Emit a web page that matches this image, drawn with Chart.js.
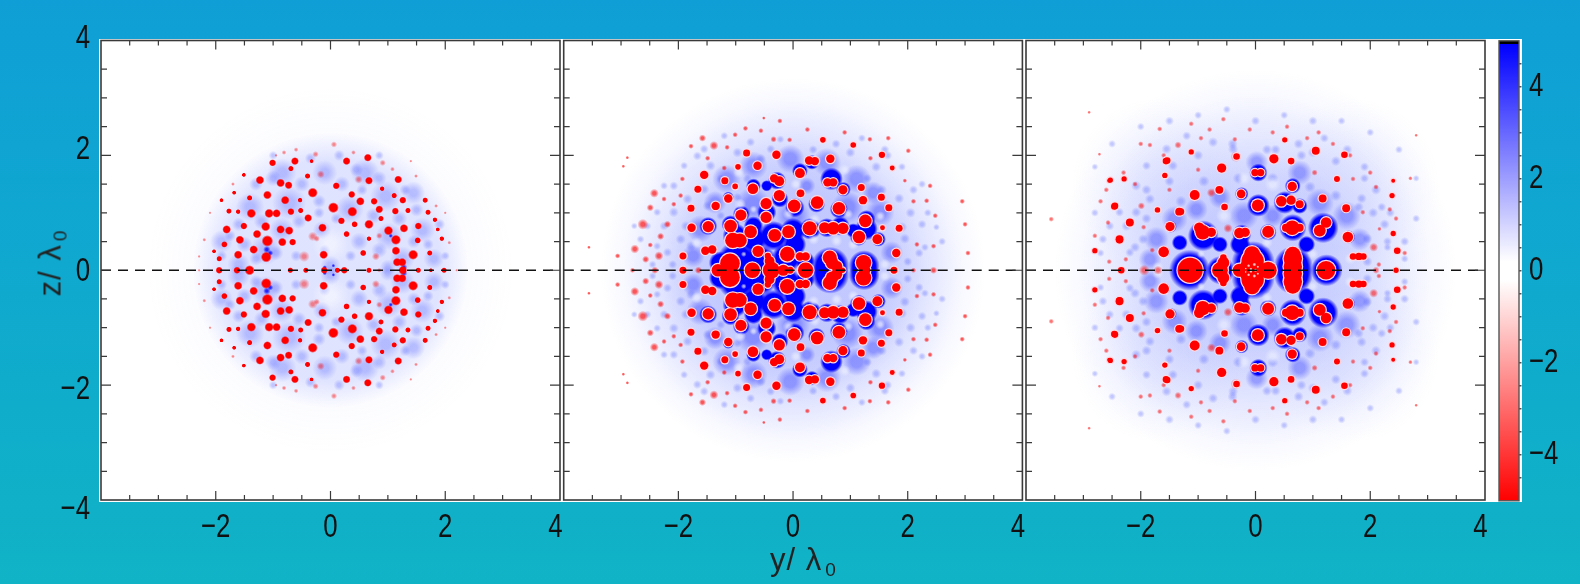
<!DOCTYPE html>
<html>
<head>
<meta charset="utf-8">
<title>z / lambda maps</title>
<script src="https://cdn.jsdelivr.net/npm/chart.js@4/dist/chart.umd.min.js"></script>
<style>
  html, body { margin: 0; padding: 0; }
  body { width: 1580px; height: 584px; overflow: hidden; position: relative;
         background: linear-gradient(#0f9fd6, #10b3c6); font-family: "Liberation Sans", sans-serif; }
  #sheet { position: absolute; left: 99px; top: 38.5px; width: 1423px; height: 463.5px; background: #fff; }
  canvas { position: absolute; left: 0; top: 0; }
  .title { position: absolute; color: #222; font-size: 31px; white-space: nowrap; line-height: 1; letter-spacing: 1px; }
  .title sub { font-size: 19px; vertical-align: -6px; margin-left: 3px; }
  #xTitle { left: 770px; top: 544px; }
  #yTitle { left: 52px; top: 263px; transform: translate(-50%, -50%) rotate(-90deg); }
</style>
</head>
<body>
<div id="sheet"></div>
<canvas id="panel1" width="1580" height="584"></canvas>
<canvas id="panel2" width="1580" height="584"></canvas>
<canvas id="panel3" width="1580" height="584"></canvas>
<canvas id="colorbar" width="1580" height="584"></canvas>
<div class="title" id="xTitle">y/ λ<sub>0</sub></div>
<div class="title" id="yTitle">z/ λ<sub>0</sub></div>
<script>
// All lists are [y, z, extent] in units of lambda0, upper half only (the maps mirror about z = 0)

// tick values
const axisMajor = [-2, 0, 2];
const axisMinor = [-3.5, -3, -2.5, -1.5, -1, -0.5, 0.5, 1, 1.5, 2.5, 3, 3.5];
const xLabelTicks = [-2, 0, 2, 3.92];
const zLabelTicks = [4.03, 2.1, -0.02, -2.07, -4.16];
const barLabelTicks = [-4, -2, 0, 2, 4];
const barMarks = [-4.5, -4, -3.5, -3, -2.5, -2, -1.5, -1, -0.5, 0, 0.5, 1, 1.5, 2, 2.5, 3, 3.5, 4, 4.5];
const barStops = [[-5, '#ff0000'], [-0.2, '#ffffff'], [0.2, '#ffffff'], [4.92, '#0000ff'], [4.93, '#000000'], [5, '#000000']];

// panel 1
const p1Outer = [[0, 0, 3.2]];
const p1Haze = [[0, 0, 2.4]];
const p1Gap = [[0, 0.45, 0.32]];
const p1Mid = [[-1.13, 0.36, 0.27], [-0.72, 1.17, 0.3], [1.02, 0.59, 0.24], [1.25, 0.2, 0.22], [0, 0.08, 0.18], [-0.84, 1.7, 0.25],
  [0.6, 1.7, 0.25], [-1.9, 0.5, 0.2], [0.33, 1.06, 0.25], [1.6, 0.7, 0.22], [0.96, 1.29, 0.27], [-1.4, 1.1, 0.25], [-0.85, 0.7, 0.22],
  [-1.6, 0.1, 0.2], [1.8, 0.2, 0.18], [-0.1, 1.7, 0.22], [0.5, 0.5, 0.16], [-0.15, 0.7, 0.16], [1.45, 1.35, 0.2],
  [-1.6, 0.8, 0.12], [-1.3, 1.5, 0.12], [-1.0, 1.6, 0.14], [-0.5, 1.5, 0.14], [-0.2, 1.2, 0.12], [0.2, 1.5, 0.14], [0.45, 1.75, 0.12], [0.85, 1.6, 0.13],
  [1.3, 1.4, 0.1], [1.5, 1.05, 0.12], [1.2, 0.9, 0.14], [0.75, 0.95, 0.14], [0.55, 1.4, 0.1], [0.1, 0.9, 0.1], [-0.55, 0.85, 0.13], [-1.2, 0.85, 0.14],
  [-1.5, 0.45, 0.14], [-1.9, 0.25, 0.1], [-1.75, 0.6, 0.1], [-1.3, 0.2, 0.12], [-0.95, 0.3, 0.13], [-0.6, 0.25, 0.1], [0.35, 0.25, 0.1], [0.85, 0.35, 0.14],
  [1.0, 0.05, 0.14], [1.45, 0.5, 0.12], [1.7, 0.45, 0.1], [2.0, 0.25, 0.08], [1.9, 0.8, 0.1], [-1.0, 2.0, 0.08], [-0.35, 1.95, 0.1], [0.15, 2.0, 0.1],
  [0.85, 2.0, 0.08], [-0.1, 0.35, 0.1], [-0.2, 1.0, 0.1]];
const p1Core = [[-1.11, 0.36, 0.05], [-1.05, 0.3, 0.04], [1.28, 0.05, 0.045], [1.05, 0.6, 0.03], [-0.1, 0.05, 0.03], [0.05, 0.08, 0.025]];
const p1Pale = [[-0.46, 0.24, 0.07], [-0.31, 0.59, 0.06], [-0.17, 1.67, 0.05], [0.49, 1.58, 0.05], [0.79, 0.24, 0.05], [0.06, 2.19, 0.04],
  [-0.26, 2.02, 0.04], [-0.6, 2.1, 0.03], [-0.81, 2.05, 0.03], [0.91, 1.87, 0.04], [1.08, 1.76, 0.03], [1.49, 1.64, 0.025], [1.84, 1.12, 0.025],
  [2.07, 0.48, 0.025], [-2.2, 0.53, 0.025], [-2.29, 0.24, 0.02], [-2.29, 0, 0.02], [2.2, 0, 0.02], [-0.24, 0.55, 0.04], [0.85, 0.6, 0.04],
  [-1.7, 1.5, 0.025], [-0.95, 2.0, 0.02], [0.4, 2.05, 0.03], [1.4, 1.9, 0.02], [2.0, 1.0, 0.02], [-2.1, 1.0, 0.02], [-0.7, 0, 0.04], [0.85, 0, 0.03]];
const p1Red = [[0.65, 1.96, 0.055], [-0.62, 1.9, 0.055], [0.28, 1.9, 0.055], [-1.01, 1.87, 0.05], [-0.33, 1.9, 0.03], [-0.69, 1.77, 0.04],
  [-1.23, 1.57, 0.06], [-0.87, 1.52, 0.06], [-0.73, 1.48, 0.055], [0.67, 1.56, 0.055], [1.18, 1.58, 0.055], [-0.4, 1.64, 0.04], [-1.51, 1.66, 0.03],
  [0.1, 1.47, 0.05], [-1.68, 1.35, 0.03], [-1.41, 1.26, 0.04], [-1.1, 1.31, 0.06], [-0.31, 1.35, 0.07], [0.37, 1.32, 0.05], [0.9, 1.42, 0.035],
  [-0.79, 1.22, 0.06], [-0.53, 1.22, 0.035], [0.52, 1.2, 0.06], [0.76, 1.2, 0.05], [1.11, 1.3, 0.04], [1.26, 1.22, 0.05], [1.65, 1.22, 0.04],
  [-1.9, 1.22, 0.03], [0.05, 1.09, 0.075], [-1.77, 1.03, 0.04], [-1.61, 1.02, 0.035], [-1.38, 0.99, 0.065], [-1.07, 0.99, 0.065], [-0.94, 0.99, 0.06],
  [-0.69, 1.02, 0.05], [-0.52, 1.04, 0.04], [0.38, 1.02, 0.07], [0.85, 1.06, 0.055], [1.13, 1.03, 0.05], [1.35, 1.04, 0.04], [1.7, 1.01, 0.04],
  [-0.39, 0.91, 0.055], [0.88, 0.9, 0.04], [0.19, 0.86, 0.05], [-1.51, 0.77, 0.05], [-1.13, 0.76, 0.065], [-0.87, 0.71, 0.06], [-0.72, 0.69, 0.06],
  [-0.14, 0.74, 0.06], [0.42, 0.8, 0.045], [0.67, 0.8, 0.065], [1.28, 0.73, 0.06], [1.53, 0.77, 0.05], [1.82, 0.88, 0.035], [1.01, 0.69, 0.065],
  [-1.81, 0.71, 0.06], [-1.28, 0.63, 0.06], [0.28, 0.63, 0.045], [1.87, 0.71, 0.03], [-1.58, 0.53, 0.06], [-1.1, 0.51, 0.08], [-0.84, 0.49, 0.06],
  [-0.66, 0.49, 0.05], [1.14, 0.53, 0.07], [0.67, 0.55, 0.035], [1.52, 0.52, 0.045], [1.94, 0.55, 0.035], [-1.85, 0.45, 0.045], [-1.34, 0.36, 0.06],
  [-1.61, 0.27, 0.06], [-1.12, 0.23, 0.075], [-0.12, 0.27, 0.06], [0.57, 0.3, 0.045], [1.14, 0.34, 0.06], [1.44, 0.27, 0.07], [1.73, 0.3, 0.04],
  [-1.94, 0.2, 0.04], [-2.03, 0.33, 0.03], [1.16, 0.14, 0.06], [1.25, 0.14, 0.06],
  [-1.94, 0, 0.05], [-1.63, 0, 0.05], [-1.41, 0, 0.07], [-0.7, 0, 0.04], [-0.43, 0, 0.04], [-0.11, 0, 0.05], [0.12, 0, 0.04], [0.24, 0, 0.05],
  [0.67, 0, 0.04], [1.26, 0, 0.06], [1.53, 0, 0.04], [1.75, 0, 0.03], [1.98, 0, 0.04]];

// panel 2
const p2Haze = [[0, 0, 3.35], [0, 0, 2.95], [0, 0, 2.3]];
const p2Mottle = [[-2.08, 1.47, 0.08], [-2.25, 0.77, 0.08], [-2.66, 0.54, 0.07], [-1.55, 2.11, 0.08], [-1.2, 2.34, 0.07], [-0.74, 2.23, 0.08], [-0.39, 2.11, 0.08], [-0.22, 2.28, 0.07],
  [-1.9, 1.82, 0.07], [-1.67, 1.99, 0.08], [-1.44, 1.82, 0.09], [-0.97, 2.05, 0.09], [-0.56, 1.94, 0.09], [-2.08, 1.01, 0.09], [-2.37, 1.01, 0.07], [-1.96, 0.54, 0.09], [-2.19, 0.31, 0.08],
  [-1.78, 0.42, 0.09], [-2.54, 0.77, 0.07], [-2.37, 0.42, 0.07], [-2.77, 0.77, 0.06], [-1.84, 1.24, 0.09], [-2.25, 1.47, 0.07], [-1.55, 1.41, 0.09], [-1.49, 1.12, 0.09], [-1.87, 0.77, 0.09],
  [-1.26, 1.59, 0.08], [-0.8, 1.59, 0.08], [-0.97, 1.27, 0.08], [-1.26, 0.95, 0.08], [2.1, 1.4, 0.08], [2.25, 0.8, 0.08], [2.6, 0.5, 0.07], [1.6, 2.1, 0.08], [1.2, 2.3, 0.07], [0.75, 2.2, 0.08],
  [0.35, 2.1, 0.08], [1.9, 1.8, 0.07], [1.65, 2.0, 0.08], [1.45, 1.8, 0.09], [1.0, 2.05, 0.09], [2.05, 1.0, 0.09], [2.35, 1.0, 0.07], [1.95, 0.55, 0.09], [2.2, 0.3, 0.08], [2.5, 0.75, 0.06],
  [2.3, 0.4, 0.07], [1.85, 1.25, 0.09], [2.25, 1.5, 0.07], [1.55, 1.4, 0.09], [1.9, 0.75, 0.09], [1.3, 1.6, 0.08], [2.0, 0.15, 0.08], [-2.1, 0.1, 0.08], [-2.45, 0.1, 0.07]];
const p2Mid = [[-1.62, 0.72, 0.24], [1.52, 1.01, 0.25], [-1.74, 0.25, 0.2], [1.72, 0.31, 0.2], [-1.16, 1.59, 0.25], [-0.69, 1.82, 0.25],
  [-0.05, 1.94, 0.25], [0.59, 1.88, 0.25], [1.11, 1.59, 0.25], [1.4, 1.35, 0.2], [-1.36, 1.18, 0.2], [0.24, 1.47, 0.15], [0, 0.95, 0.3], [-0.7, 1.15, 0.3], [0.95, 1.1, 0.28]];
const p2Core = [[-0.98, 0.16, 0.35], [-1.27, 0.13, 0.2], [-0.58, 0.16, 0.29], [-0.11, 0.22, 0.26], [0.21, 0.16, 0.17], [0.65, 0.08, 0.33], [1.24, 0.08, 0.27],
  [-1.01, 0.6, 0.22], [-0.69, 0.54, 0.23], [-0.34, 0.6, 0.26], [-0.69, 0.77, 0.17], [0, 0.69, 0.22], [0.3, 0.72, 0.19], [0.59, 0.74, 0.17], [0.82, 0.77, 0.17],
  [1.05, 0.69, 0.13], [1.28, 0.72, 0.2], [1.14, 0.57, 0.15], [1.49, 0.54, 0.13], [-1.48, 0.77, 0.16], [-1.09, 0.8, 0.16], [0.03, 0.45, 0.2], [-0.9, 0.98, 0.15],
  [-0.46, 1.01, 0.17], [0.03, 1.09, 0.17], [-0.23, 1.24, 0.15], [0.41, 1.15, 0.15], [0.8, 1.06, 0.16], [0.67, 1.59, 0.2], [0.88, 1.41, 0.13], [-0.28, 1.56, 0.16],
  [-0.46, 1.47, 0.1], [-0.69, 1.47, 0.13], [-1.13, 1.27, 0.1], [0.12, 1.73, 0.14], [0.33, 1.88, 0.13], [1.28, 0.89, 0.16]];
const p2Gap = [[0.76, 0.51, 0.1], [0.36, 0.54, 0.1], [1.05, 0.45, 0.1], [-0.08, 0.98, 0.1], [0.38, 0.88, 0.1], [0.96, 0.98, 0.09], [-0.86, 0.28, 0.05],
  [-0.92, 1.15, 0.1], [-1.68, 0.48, 0.1], [1.52, 0.94, 0.09], [0.05, 1.5, 0.1], [-0.69, 1.06, 0.07], [0.9, 1.75, 0.1], [-0.95, 1.7, 0.1], [1.6, 0.1, 0.1]];
const p2Pale = [[-2.42, 1.34, 0.05], [-2.49, 1.09, 0.04], [-2.62, 0.8, 0.06], [-2.76, 0.37, 0.05], [-2.31, 0.59, 0.04], [-2.49, 0.44, 0.03], [-2.57, 0.19, 0.04],
  [-2.34, 0.25, 0.05], [-2.96, 1.81, 0.02], [-2.89, 1.96, 0.02], [-2.25, 1.24, 0.03], [-2.08, 1.15, 0.03], [-2.19, 0.8, 0.04], [-1.93, 1.59, 0.03], [-1.58, 2.3, 0.04],
  [-1.78, 2.16, 0.03], [-1.38, 2.17, 0.05], [-1.15, 2.14, 0.03], [-1.01, 2.36, 0.03], [-0.83, 2.47, 0.03], [-0.51, 2.65, 0.02], [-0.23, 2.6, 0.03], [-0.34, 2.28, 0.035],
  [-0.06, 2.27, 0.03], [-0.56, 2.43, 0.03], [-1.49, 1.95, 0.03], [-1.2, 1.78, 0.03], [-0.96, 1.81, 0.04], [-1.96, 1.3, 0.03], [-3.06, 0.25, 0.03], [-3.56, 0.4, 0.02],
  [2.45, 0.42, 0.03], [2.16, 0.45, 0.03], [2.48, 0.95, 0.03], [2.33, 1.21, 0.03], [1.95, 1.56, 0.025], [2.01, 2.08, 0.03], [1.66, 2.3, 0.03], [1.34, 2.28, 0.03],
  [2.39, 1.47, 0.03], [3.0, 0.8, 0.03], [3.05, 0.3, 0.03], [2.95, 1.2, 0.03], [0.9, 2.4, 0.03], [0.25, 2.45, 0.03], [1.35, 1.95, 0.03], [2.1, 1.2, 0.03],
  [-2.41, 0, 0.04], [2.45, 0, 0.04], [2.1, 0, 0.03], [-2.8, 0, 0.03], [-1.65, 0, 0.04]];
const p2Red = [[-0.29, 2.01, 0.06], [0.28, 1.91, 0.06], [0.38, 1.9, 0.06], [0.65, 1.94, 0.06], [-0.62, 1.82, 0.06], [0.12, 1.69, 0.07], [-0.33, 1.6, 0.06], [-0.24, 1.55, 0.07],
  [-1.19, 1.56, 0.05], [-1.66, 1.41, 0.05], [-0.7, 1.42, 0.075], [0.6, 1.53, 0.06], [0.7, 1.53, 0.06], [0.87, 1.4, 0.065], [-1.01, 1.46, 0.04], [-1.13, 1.25, 0.06],
  [-0.24, 1.3, 0.08], [0.13, 1.34, 0.055], [0.42, 1.18, 0.09], [-0.47, 1.16, 0.08], [0.02, 1.12, 0.09], [0.8, 1.08, 0.09], [-1.35, 1.12, 0.06], [-0.91, 0.96, 0.08],
  [-0.47, 0.92, 0.08], [1.26, 0.86, 0.09], [-1.48, 0.76, 0.08], [-1.09, 0.77, 0.09], [0.29, 0.73, 0.1], [0.55, 0.74, 0.08], [0.7, 0.73, 0.09], [0.87, 0.73, 0.08],
  [-0.74, 0.67, 0.09], [-0.08, 0.67, 0.09], [-0.32, 0.61, 0.09], [-1.05, 0.52, 0.11], [-0.93, 0.52, 0.1], [1.15, 0.58, 0.09], [1.47, 0.54, 0.07], [-0.61, 0.33, 0.08],
  [-0.1, 0.28, 0.105], [0.12, 0.24, 0.06], [0.22, 0.24, 0.06], [-1.53, 0.34, 0.06], [-1.41, 0.36, 0.06], [-1.92, 0.25, 0.05], [1.8, 0.3, 0.06], [-1.77, 0.74, 0.06],
  [1.22, 1.22, 0.06], [1.54, 1.27, 0.05], [1.67, 1.09, 0.05], [1.85, 0.73, 0.05], [1.56, 0.74, 0.035], [1.55, 2.01, 0.045], [1.73, 1.78, 0.035], [1.19, 1.44, 0.05],
  [1.05, 2.18, 0.04], [0.52, 2.27, 0.04], [-1.55, 1.66, 0.06], [-0.96, 1.8, 0.04], [-0.81, 2.04, 0.05], [-1.78, 1.08, 0.05], [-1.1, 0.12, 0.14],
  [-1.31, 0, 0.09], [-1.14, 0, 0.07], [-0.71, 0, 0.11], [-0.38, 0, 0.12], [-0.41, 0.16, 0.07], [-0.44, 0.25, 0.045], [-0.17, 0, 0.08], [-0.05, 0, 0.05], [0.22, 0, 0.11],
  [0.64, 0.22, 0.1], [0.68, 0.13, 0.09], [0.76, 0.07, 0.08], [0.86, 0, 0.04], [1.23, 0.13, 0.11], [1.25, 0, 0.08], [1.76, 0, 0.05], [-1.92, 0, 0.05]];

// panel 3
const p3Haze = [[0, 0, 3.5], [0, 0, 3.05], [0, 0, 2.0]];
const p3Corner = [[-1.7, 1.5, 1.5], [1.7, 1.5, 1.5]];
const p3Mottle = [[-2.08, 1.47, 0.09], [-2.25, 0.77, 0.09], [-2.66, 0.54, 0.08], [-1.55, 2.11, 0.09], [-1.2, 2.34, 0.08], [-0.74, 2.23, 0.09], [-0.39, 2.11, 0.09], [-1.9, 1.82, 0.08],
  [-1.44, 1.82, 0.09], [-2.08, 1.01, 0.09], [-2.37, 1.01, 0.08], [-1.96, 0.54, 0.09], [-2.19, 0.31, 0.08], [-2.54, 0.77, 0.08], [-1.84, 1.24, 0.09], [2.1, 1.4, 0.09], [2.25, 0.8, 0.09], [2.6, 0.5, 0.08],
  [1.6, 2.1, 0.09], [1.2, 2.3, 0.08], [0.75, 2.2, 0.09], [0.35, 2.1, 0.09], [1.9, 1.8, 0.08], [1.0, 2.05, 0.09], [2.05, 1.0, 0.09], [2.35, 1.0, 0.08], [1.95, 0.55, 0.09], [2.3, 0.4, 0.07], [1.85, 1.25, 0.09],
  [-2.8, 1.0, 0.07], [-2.8, 1.8, 0.06], [-2.5, 2.2, 0.07], [-2, 2.5, 0.07], [-1.5, 2.6, 0.08], [-1, 2.7, 0.07], [-0.5, 2.8, 0.07], [0, 2.6, 0.08], [0.5, 2.7, 0.07], [1, 2.6, 0.08], [1.5, 2.6, 0.07], [2, 2.4, 0.07],
  [2.5, 2.1, 0.07], [2.8, 1.6, 0.06], [2.8, 0.9, 0.07], [2.6, 0.2, 0.07], [-2.7, 0.3, 0.07], [-1.3, 1.2, 0.1], [-0.9, 1.55, 0.1], [-0.3, 1.6, 0.1], [0.3, 1.6, 0.1], [0.95, 1.45, 0.1], [1.4, 1.3, 0.1], [1.8, 1.1, 0.09],
  [-1.9, 0.9, 0.09], [-2.1, 0.4, 0.09], [-1.9, 1.4, 0.09], [-1.5, 1.55, 0.09], [-1, 2, 0.09], [-0.4, 2.2, 0.09], [0.2, 2.1, 0.09], [0.8, 2.0, 0.09], [1.4, 1.9, 0.09], [1.9, 1.6, 0.08], [2.2, 1.1, 0.08], [2.3, 0.5, 0.08], [1.95, 0.15, 0.09]];
const p3Mid = [[-1.73, 0.54, 0.22], [-1.41, 0.89, 0.23], [-1.03, 1.06, 0.2], [-0.62, 1.27, 0.2], [0.02, 1.88, 0.2], [0.77, 1.7, 0.22], [1.12, 1.18, 0.25], [1.59, 0.95, 0.25],
  [1.82, 0.54, 0.2], [-1.84, 0.19, 0.2], [-0.2, 0.95, 0.25], [0.3, 0.95, 0.2]];
const p3Core = [[-1.15, 0, 0.36], [-0.61, 0, 0.25], [-0.04, 0.13, 0.38], [0.66, 0.08, 0.34], [1.24, 0, 0.28], [0.05, 1.7, 0.16], [0.05, 1.13, 0.2], [-0.24, 1.33, 0.12],
  [0.51, 1.18, 0.2], [0.77, 1.12, 0.14], [0.65, 1.47, 0.14], [0.65, 0.74, 0.24], [1.18, 0.74, 0.27], [-0.91, 0.6, 0.27], [-0.24, 0.63, 0.17], [0.22, 0.66, 0.15],
  [1.62, 0.58, 0.12], [-1.59, 0.32, 0.11], [-1.48, 0.76, 0.11], [-1.06, 1.31, 0.1], [-0.58, 1.78, 0.09], [-1.32, 0.48, 0.14], [-0.27, 0.45, 0.18], [-0.62, 0.45, 0.14], [0.89, 0.45, 0.15]];
const p3Gap = [[0.2, 0.48, 0.1], [1.0, 0.28, 0.1], [-0.95, 0.28, 0.07], [-0.55, 0.95, 0.14], [0.3, 1.5, 0.14], [-0.2, 1.6, 0.12], [1.65, 0.2, 0.1], [-1.7, 0.05, 0.1]];
const p3Pale = [[-1.84, 2.18, 0.03], [-1.67, 2.46, 0.03], [-1.35, 2.18, 0.04], [-1.12, 2.55, 0.03], [-0.56, 2.63, 0.03], [-0.36, 2.28, 0.03], [-0.8, 2.45, 0.03], [-2.72, 2.02, 0.02],
  [-2.9, 2.75, 0.02], [-1.99, 1.12, 0.04], [-2.57, 0.83, 0.03], [-3.56, 0.89, 0.03], [-2.26, 0.19, 0.03], [-0.48, 0.73, 0.05], [-0.77, 1.35, 0.05], [2.34, 1.06, 0.03], [2.16, 0.72, 0.025],
  [1.87, 1.01, 0.03], [1.7, 1.59, 0.03], [2.8, 2.35, 0.02], [2.06, 0.4, 0.05], [-0.34, 1.98, 0.06], [1.03, 1.7, 0.035], [-1.94, 0, 0.06], [-1.7, 0, 0.05], [2.1, 0, 0.04], [0.9, 2.3, 0.03],
  [0.3, 2.4, 0.03], [1.35, 2.2, 0.03], [2.0, 1.7, 0.03], [-2.3, 1.7, 0.03], [-2.7, 1.2, 0.03], [-2.8, 0.6, 0.03], [2.6, 0.3, 0.03], [2.7, 1.6, 0.025], [-1.0, 1.75, 0.03], [-1.5, 1.4, 0.03],
  [-2.0, 2.2, 0.03], [-1.6, 2.0, 0.03], [-0.95, 2.3, 0.03], [-0.1, 2.45, 0.03], [0.55, 2.5, 0.03], [1.1, 2.4, 0.03], [1.65, 2.0, 0.03], [2.1, 1.45, 0.03], [2.45, 0.9, 0.03], [2.15, 0.1, 0.03],
  [-2.6, 1.4, 0.03], [-2.1, 1.5, 0.03], [-1.95, 0.75, 0.03], [-2.55, 0.15, 0.03], [-1.8, 0.35, 0.03]];
const p3Red = [[-0.01, 1.7, 0.055], [0.09, 1.7, 0.055], [-0.59, 1.78, 0.07], [0.32, 1.94, 0.07], [0.62, 1.9, 0.05], [0.51, 2.27, 0.04], [0.64, 1.46, 0.07], [-1.06, 1.31, 0.075],
  [-0.63, 1.4, 0.06], [-0.25, 1.33, 0.065], [0.04, 1.13, 0.09], [0.45, 1.2, 0.08], [0.62, 1.22, 0.07], [0.77, 1.15, 0.06], [1.17, 1.25, 0.06], [1.58, 1.08, 0.06], [-1.33, 1.02, 0.06],
  [-1.7, 1.05, 0.035], [-0.54, 1.1, 0.05], [-1.49, 0.76, 0.07], [-0.92, 0.66, 0.11], [-0.98, 0.74, 0.08], [-0.77, 0.66, 0.07], [-0.28, 0.65, 0.08], [-0.18, 0.66, 0.07], [0.22, 0.67, 0.09],
  [0.64, 0.74, 0.11], [0.77, 0.74, 0.06], [0.53, 0.74, 0.06], [1.23, 0.83, 0.08], [1.12, 0.69, 0.09], [1.61, 0.58, 0.08], [-1.6, 0.32, 0.08], [1.7, 0.24, 0.05], [1.8, 0.24, 0.055], [1.88, 0.24, 0.05],
  [-2.37, 0.53, 0.055], [-2.19, 0.83, 0.05], [-2.46, 1.11, 0.05], [-2.55, 1.56, 0.03], [-1.56, 1.9, 0.05], [-1.58, 1.65, 0.035], [-1.12, 2.06, 0.04], [1.05, 2.08, 0.06], [1.55, 2.01, 0.05],
  [1.42, 1.59, 0.045], [2.4, 1.56, 0.03], [2.38, 1.3, 0.04], [2.4, 0.64, 0.04], [2.47, 0.34, 0.05], [-1.54, 1.91, 0.05], [-1.58, 1.65, 0.04], [-2.53, 1.57, 0.04], [-2.29, 1.59, 0.04],
  [-2.45, 1.12, 0.05], [-2.19, 0.83, 0.06], [-2.37, 0.54, 0.06], [-2.8, 0.34, 0.04], [-1.71, 1.05, 0.04], [-1.3, 1.02, 0.05], [-0.33, 1.98, 0.05],
  [-1.14, 0, 0.19], [-0.62, 0, 0.12], [-0.56, 0.13, 0.09], [-0.56, 0.22, 0.05], [-0.06, 0, 0.2], [-0.05, 0.16, 0.17], [-0.06, 0.28, 0.12], [0.22, 0, 0.13], [-0.28, 0, 0.1],
  [0.65, 0.2, 0.14], [0.65, 0.06, 0.14], [0.65, 0.27, 0.12], [1.23, 0, 0.14], [-2.34, 0, 0.05], [2.45, 0, 0.04]];
const p3Speck = [[-0.12, 0.08, 0.03], [-0.02, 0.1, 0.035], [0.04, 0.06, 0.025], [-0.08, 0.02, 0.03], [0, 0, 0.035], [-0.17, 0.03, 0.02]];

const UNIT = 57.35;
const CLEAR = 'rgba(0,0,0,0)';
const labelFont = { size: 34, family: '"Liberation Sans"' };

// soft-edged fill centred on each point
function soft(rgb, alpha, flat) {
    return function(ctx) {
        const c = ctx.chart, p = ctx.raw;
        if (!p) return CLEAR;
        const px = c.scales.x.getPixelForValue(p.x), py = c.scales.y.getPixelForValue(p.y);
        // options also get resolved once before the scales have been laid out
        if (!isFinite(px) || !isFinite(py)) return CLEAR;
        const g = c.ctx.createRadialGradient(px, py, 0, px, py, Math.max(p.r, 0.1));
        g.addColorStop(0, `rgba(${rgb},${alpha})`);
        g.addColorStop(flat, `rgba(${rgb},${alpha})`);
        g.addColorStop(1, `rgba(${rgb},0)`);
        return g;
    };
}

function toBubbles(list, grow, pad) {
    const pts = [];
    list.forEach(function(b) {
        const r = b[2] * UNIT * (grow || 1) + (pad || 0);
        pts.push({ x: b[0], y: b[1], r: r });
        if (b[1] !== 0) pts.push({ x: b[0], y: -b[1], r: r });
    });
    return pts;
}

function layer(list, fill, order, grow, pad) {
    return { type: 'bubble', data: toBubbles(list, grow, pad), backgroundColor: fill, borderWidth: 0, clip: 0, order: order };
}

function dashedAxis() {
    return { type: 'line', data: [{ x: -4, y: 0 }, { x: 4, y: 0 }], borderColor: '#111', borderWidth: 1.3, borderDash: [10, 7], pointRadius: 0, order: 0 };
}

// the tick digits in the original are a narrow face, none is installed so squeeze Liberation Sans
function narrowText(canvas) {
    const g = canvas.getContext('2d');
    const fill = g.fillText;
    g.fillText = function(text, x, y) {
        this.save();
        this.translate(x, y);
        this.scale(0.76, 1);
        fill.call(this, text, 0, 0);
        this.restore();
    };
    return canvas;
}

// frame and inward ticks on all four sides of a panel
const frameTicks = {
    id: 'frameTicks',
    afterDatasetsDraw(chart) {
        const a = chart.chartArea, sx = chart.scales.x, sy = chart.scales.y, g = chart.ctx;
        g.save();
        g.strokeStyle = '#3a3a3a';
        g.lineWidth = 1.2;
        g.beginPath();
        function mark(values, len) {
            values.forEach(function(v) {
                const px = sx.getPixelForValue(v), py = sy.getPixelForValue(v);
                g.moveTo(px, a.top); g.lineTo(px, a.top + len);
                g.moveTo(px, a.bottom); g.lineTo(px, a.bottom - len);
                g.moveTo(a.left, py); g.lineTo(a.left + len + 1, py);
                g.moveTo(a.right, py); g.lineTo(a.right - len - 1, py);
            });
        }
        mark(axisMajor, 9);
        mark(axisMinor, 5);
        g.stroke();
        g.lineWidth = 1.6;
        g.strokeRect(a.left, a.top, a.right - a.left, a.bottom - a.top);
        g.restore();
    }
};

function minus(v) { return v < 0 ? '\u2212' + Math.abs(v) : '' + v; }

function makePanel(id, left, right, showZ, datasets) {
    return new Chart(narrowText(document.getElementById(id)), {
        data: { datasets: datasets },
        plugins: [frameTicks],
        options: {
            responsive: false,
            animation: false,
            events: [],
            layout: { autoPadding: false, padding: { left: showZ ? 0 : left, right: 1580 - right, top: 40.5, bottom: 0 } },
            plugins: { legend: { display: false }, tooltip: { enabled: false } },
            scales: {
                x: {
                    type: 'linear', min: -4, max: 4,
                    grid: { display: false, drawTicks: false }, border: { display: false },
                    afterBuildTicks: function(s) { s.ticks = xLabelTicks.map(function(v) { return { value: v }; }); },
                    afterFit: function(s) { s.height = 84; },
                    ticks: { autoSkip: false, maxRotation: 0, padding: 7, color: '#111', font: labelFont,
                        callback: function(v) { return minus(Math.round(v / 2) * 2); } }
                },
                y: {
                    type: 'linear', min: -4, max: 4, display: showZ,
                    grid: { display: false, drawTicks: false }, border: { display: false },
                    afterBuildTicks: function(s) { s.ticks = zLabelTicks.map(function(v) { return { value: v }; }); },
                    afterFit: function(s) { s.width = showZ ? left : 0; },
                    ticks: { autoSkip: false, padding: 11, color: '#111', font: labelFont,
                        callback: function(v) { return minus(Math.round(v / 2) * 2); } }
                }
            }
        }
    });
}

const red = '255,0,0', blue = '0,0,255';
const rimColor = '#ffd9e2';

makePanel('panel1', 101, 560, true, [
    dashedAxis(),
    layer(p1Red, soft(red, 1, 0.68), 1, 1.28),
    layer(p1Pale, soft(red, 0.45, 0.3), 2, 1.4),
    layer(p1Core, soft(blue, 0.8, 0.3), 3, 1.3),
    layer(p1Gap, soft('255,255,255', 0.5, 0.25), 4),
    layer(p1Mid, soft('80,95,255', 0.3, 0.3), 5),
    layer(p1Haze, soft('140,155,255', 0.25, 0.8), 6),
    layer(p1Outer, soft('150,160,255', 0.04, 0.7), 7)
]);

makePanel('panel2', 563.7, 1022.4, false, [
    dashedAxis(),
    layer(p2Red, '#ff0000', 1, 1.22),
    layer(p2Red, rimColor, 2, 1.22, 1.2),
    layer(p2Pale, soft(red, 0.65, 0.35), 3, 1.6),
    layer(p2Gap, soft('235,238,255', 0.7, 0.3), 4),
    layer(p2Core, soft(blue, 1, 0.72), 5),
    layer(p2Mid, soft('50,60,255', 0.42, 0.4), 6),
    layer(p2Mottle, soft('70,85,255', 0.3, 0.3), 7),
    layer(p2Haze, soft('120,135,255', 0.18, 0.6), 8)
]);

makePanel('panel3', 1026, 1485, false, [
    dashedAxis(),
    layer(p3Speck, soft('255,220,220', 0.9, 0.3), 1),
    layer(p3Red, '#ff0000', 2, 1.15),
    layer(p3Red, rimColor, 3, 1.15, 1.2),
    layer(p3Pale, soft(red, 0.55, 0.35), 4, 1.6),
    layer(p3Gap, soft('235,238,255', 0.7, 0.3), 5),
    layer(p3Core, soft(blue, 1, 0.72), 6),
    layer(p3Mid, soft('50,60,255', 0.4, 0.4), 7),
    layer(p3Mottle, soft('70,85,255', 0.3, 0.3), 8),
    layer(p3Haze, soft('125,140,255', 0.17, 0.55), 9),
    layer(p3Corner, soft('125,140,255', 0.09, 0.25), 10)
]);

// colour scale
const barFrame = {
    id: 'barFrame',
    afterDatasetsDraw(chart) {
        const a = chart.chartArea, sy = chart.scales.y, g = chart.ctx;
        g.save();
        g.strokeStyle = '#555';
        g.lineWidth = 1.4;
        g.strokeRect(a.left, a.top, a.right - a.left, a.bottom - a.top);
        g.beginPath();
        barMarks.forEach(function(v) {
            g.moveTo(a.right, sy.getPixelForValue(v));
            g.lineTo(a.right + 2.5, sy.getPixelForValue(v));
        });
        g.stroke();
        g.restore();
    }
};

new Chart(narrowText(document.getElementById('colorbar')), {
    type: 'bar',
    data: {
        labels: [''],
        datasets: [{
            data: [[-5, 5]],
            barPercentage: 1,
            categoryPercentage: 1,
            backgroundColor: function(ctx) {
                const sy = ctx.chart.scales.y;
                const from = sy.getPixelForValue(-5), to = sy.getPixelForValue(5);
                if (!isFinite(from) || !isFinite(to)) return CLEAR;
                const g = ctx.chart.ctx.createLinearGradient(0, from, 0, to);
                barStops.forEach(function(s) { g.addColorStop((s[0] + 5) / 10, s[1]); });
                return g;
            }
        }]
    },
    plugins: [barFrame],
    options: {
        responsive: false,
        animation: false,
        events: [],
        layout: { padding: { left: 1499, top: 40.8, bottom: 83.2, right: 0 } },
        plugins: { legend: { display: false }, tooltip: { enabled: false } },
        scales: {
            x: { display: false },
            y: {
                position: 'right', min: -5, max: 5,
                grid: { display: false, drawTicks: false }, border: { display: false },
                afterBuildTicks: function(s) { s.ticks = barLabelTicks.map(function(v) { return { value: v }; }); },
                afterFit: function(s) { s.width = 61; },
                ticks: { autoSkip: false, padding: 10, color: '#111', font: labelFont,
                    callback: function(v) { return minus(v); } }
            }
        }
    }
});
</script>
</body>
</html>
